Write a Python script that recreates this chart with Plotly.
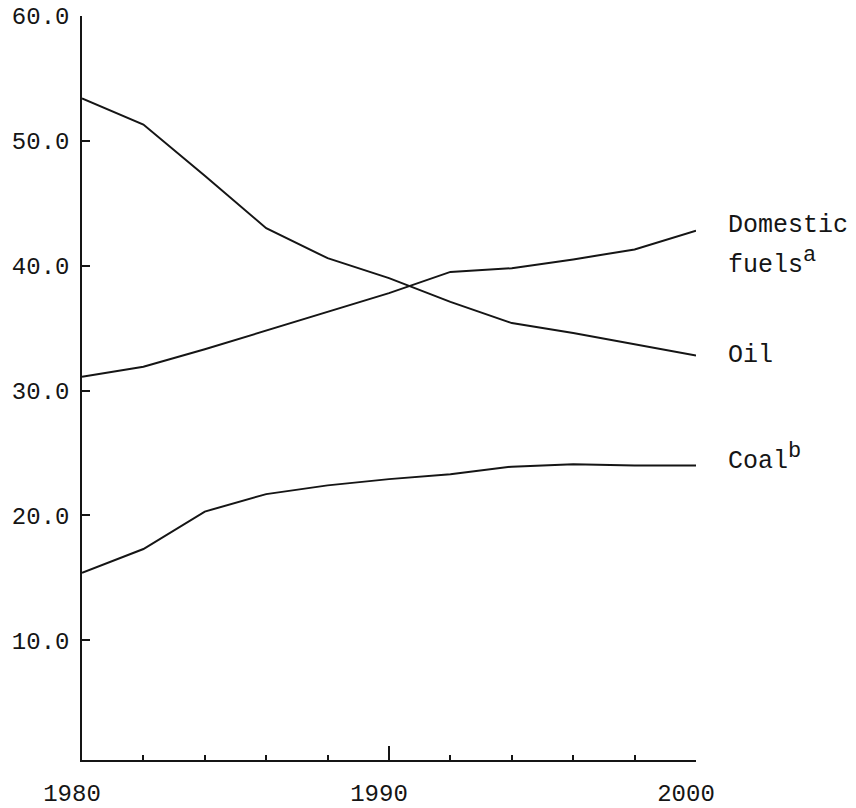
import plotly.graph_objects as go

years = [1980, 1982, 1984, 1986, 1988, 1990, 1992, 1994, 1996, 1998, 2000]
oil = [53.4, 51.3, 47.2, 43.0, 40.6, 39.0, 37.1, 35.4, 34.6, 33.7, 32.8]
domestic = [31.1, 31.9, 33.3, 34.8, 36.3, 37.8, 39.5, 39.8, 40.5, 41.3, 42.8]
coal = [15.4, 17.3, 20.3, 21.7, 22.4, 22.9, 23.3, 23.9, 24.1, 24.0, 24.0]

y_ticks = [10, 20, 30, 40, 50, 60]
y_ticktext = ["10.0", "20.0", "30.0", "40.0", "50.0", "60.0"]

SUP = '<sup><span style="font-size:22px">{}</span></sup>'
series_labels = [
    ("Domestic", 43.25),
    ("fuels" + SUP.format("a"), 40.3),
    ("Oil", 32.84),
    ("Coal" + SUP.format("b"), 24.6),
]

FONT = "Liberation Mono, Courier New, monospace"
INK = "#151515"

fig = go.Figure()
for vals in (oil, domestic, coal):
    fig.add_trace(go.Scatter(x=years, y=vals, mode="lines",
                             line=dict(color=INK, width=2), showlegend=False,
                             hoverinfo="skip", cliponaxis=False))

for text, yv in series_labels:
    fig.add_annotation(x=2000, y=yv, xref="x", yref="y", text=text,
                       showarrow=False, xanchor="left", yanchor="middle",
                       xshift=30, font=dict(family=FONT, size=25, color=INK))

fig.update_layout(
    width=856, height=808,
    margin=dict(l=82, r=160, t=16, b=48, pad=0, autoexpand=False),
    paper_bgcolor="white", plot_bgcolor="white",
    showlegend=False,
    font=dict(family=FONT, size=24, color=INK),
)

fig.update_xaxes(
    range=[1980, 2000], showgrid=False, zeroline=False, automargin=False,
    showline=True, linecolor=INK, linewidth=1.5,
    tickmode="linear", tick0=1980, dtick=10,
    ticks="inside", ticklen=14, tickwidth=1.5, tickcolor=INK,
    minor=dict(ticks="inside", tick0=1980, dtick=2, ticklen=5,
               tickwidth=1.5, tickcolor=INK, showgrid=False),
    ticklabelshift=-10, ticklabelstandoff=10,
    tickfont=dict(family=FONT, size=24, color=INK),
)
fig.update_yaxes(
    range=[0.4, 60], showgrid=False, zeroline=False, automargin=False,
    showline=True, linecolor=INK, linewidth=1.5,
    tickmode="array", tickvals=y_ticks, ticktext=y_ticktext,
    ticks="inside", ticklen=8, tickwidth=1.5, tickcolor=INK,
    ticklabelstandoff=6,
    tickfont=dict(family=FONT, size=24, color=INK),
)

fig.write_html("out.html")
